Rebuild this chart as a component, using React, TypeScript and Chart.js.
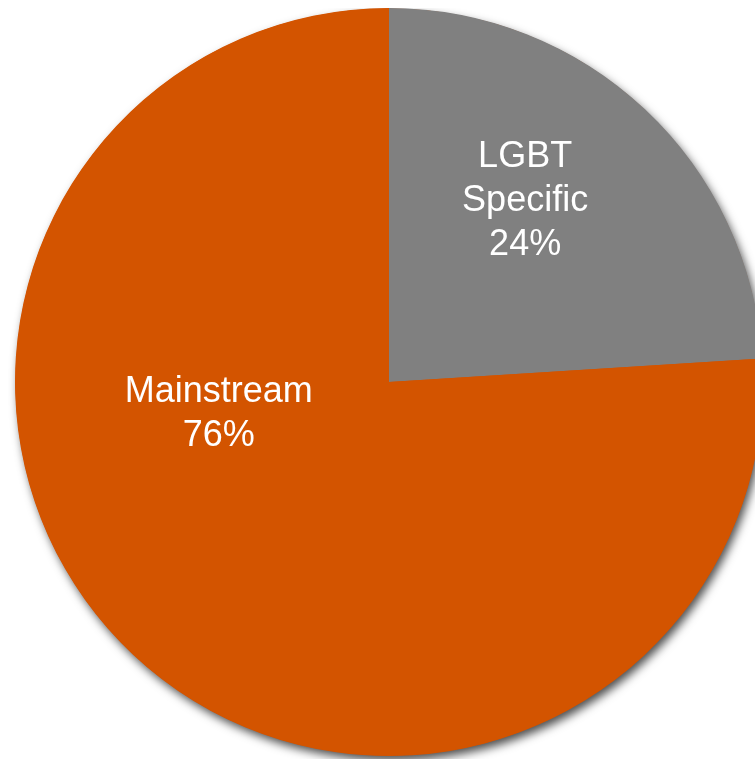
import React, { useEffect, useRef } from "react";
import { Chart, registerables } from "chart.js";

Chart.register(...registerables);

const categories = ["LGBT Specific", "Mainstream"];
const values = [24, 76];
const labelLines = [["LGBT", "Specific", "24%"], ["Mainstream", "76%"]];
const colors = ["#808080", "#D35400"];

// label anchor offsets as fractions of the pie radius (x of block centre, y of first baseline)
const labelAnchors = [
  { fx: 0.364, fy: -0.575 },
  { fx: -0.455, fy: 0.054 },
];

const shadowPlugin = {
  id: "pieShadow",
  beforeDatasetsDraw(chart: any) {
    const meta = chart.getDatasetMeta(0);
    const arc = meta.data[0];
    if (!arc) return;
    const { x, y, outerRadius } = arc.getProps(["x", "y", "outerRadius"], true);
    const ctx = chart.ctx;
    ctx.save();
    ctx.shadowColor = "rgba(0,0,0,0.7)";
    ctx.shadowBlur = 10;
    ctx.shadowOffsetX = 3;
    ctx.shadowOffsetY = 5;
    ctx.fillStyle = colors[1];
    ctx.beginPath();
    ctx.arc(x, y, outerRadius - 0.5, 0, Math.PI * 2);
    ctx.fill();
    ctx.restore();
  },
};

const labelPlugin = {
  id: "pieLabels",
  afterDatasetsDraw(chart: any) {
    const meta = chart.getDatasetMeta(0);
    const ctx = chart.ctx;
    ctx.save();
    ctx.fillStyle = "#FFFFFF";
    ctx.font = '36px "Liberation Sans", Arial, sans-serif';
    ctx.textAlign = "center";
    ctx.textBaseline = "alphabetic";
    meta.data.forEach((arc: any, i: number) => {
      const { x, y, outerRadius } = arc.getProps(["x", "y", "outerRadius"], true);
      const a = labelAnchors[i];
      const cx = x + a.fx * outerRadius;
      const by = y + a.fy * outerRadius;
      labelLines[i].forEach((line, j) => {
        ctx.fillText(line, cx, by + j * 44);
      });
    });
    ctx.restore();
  },
};

export default function App() {
  const ref = useRef<HTMLCanvasElement | null>(null);
  useEffect(() => {
    document.documentElement.style.overflow = "hidden";
    if (!ref.current) return;
    const chart = new Chart(ref.current, {
      type: "pie",
      data: {
        labels: categories,
        datasets: [
          {
            data: values,
            backgroundColor: colors,
            borderWidth: 0,
            hoverOffset: 0,
            offset: 0,
          },
        ],
      },
      options: {
        responsive: false,
        animation: false,
        events: [],
        layout: { padding: { top: 0, left: 0, right: 0, bottom: 12 } },
        plugins: {
          legend: { display: false },
          tooltip: { enabled: false },
        },
      },
      plugins: [shadowPlugin, labelPlugin],
    });
    return () => chart.destroy();
  }, []);
  return (
    <div style={{ position: "fixed", left: 8, top: 8, width: 762, height: 760, overflow: "visible" }}>
      <canvas ref={ref} width={762} height={760} style={{ width: 762, height: 760, display: "block" }} />
    </div>
  );
}
